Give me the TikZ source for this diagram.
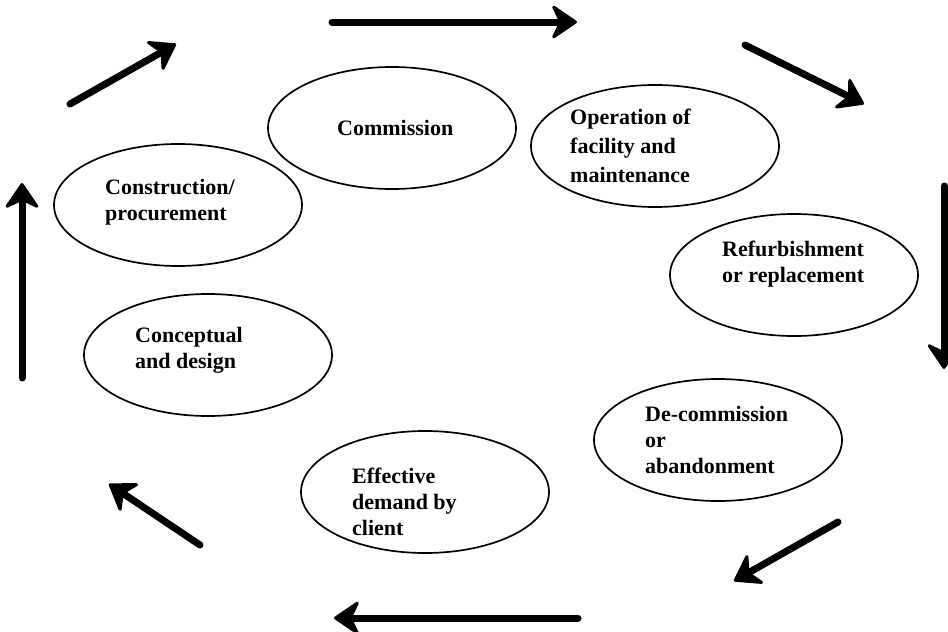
\documentclass[tikz,border=0pt]{standalone}
\usepackage{fontspec}
\setmainfont{Liberation Serif}
\usetikzlibrary{arrows.meta,shapes.geometric}
\begin{document}
\begin{tikzpicture}[x=1pt,y=-1pt,
  stage/.style={draw, line width=1.7pt, ellipse, minimum width=248pt, minimum height=122pt, inner sep=0pt},
  stagetext/.style={anchor=west, align=left, inner sep=0pt,
    font=\fontsize{22}{26}\selectfont\bfseries},
  flow/.style={line width=7pt, line cap=round,
    -{Stealth[length=28pt,width=38pt,inset=9pt,line width=3pt,round]}}]
\clip (0,0) rectangle (948,632);

% stages of the facility life cycle
\node[stage] (commission)   at (392,128) {};
\node[stage] (operation)    at (655,146) {};
\node[stage] (construction) at (178,205) {};
\node[stage] (refurbish)    at (794,275) {};
\node[stage] (conceptual)   at (208,355) {};
\node[stage] (decommission) at (718,440) {};
\node[stage] (demand)       at (425,492) {};

\node[stagetext] (tcommission)   at (337,128) {Commission};
\node[stagetext, font=\fontsize{22}{29}\selectfont\bfseries]
                 (toperation)    at (570,146) {Operation of\\facility and\\maintenance};
\node[stagetext] (tconstruction) at (105,202) {Construction/\\procurement};
\node[stagetext] (trefurbish)    at (722,264) {Refurbishment\\or replacement};
\node[stagetext] (tconceptual)   at (135,350) {Conceptual\\and design};
\node[stagetext] (tdecommission) at (645,440) {De-commission\\or\\abandonment};
\node[stagetext] (tdemand)       at (352,502) {Effective\\demand by\\client};

% clockwise flow arrows around the cycle
\coordinate (a1s) at (332,22);  \coordinate (a1e) at (577,22);
\coordinate (a2s) at (745,45);  \coordinate (a2e) at (864,104);
\coordinate (a3s) at (944,186); \coordinate (a3e) at (944,369);
\coordinate (a4s) at (838,522); \coordinate (a4e) at (734,581);
\coordinate (a5s) at (578,618); \coordinate (a5e) at (334,618);
\coordinate (a6s) at (200,545); \coordinate (a6e) at (109,484);
\coordinate (a7s) at (22,378);  \coordinate (a7e) at (22,183);
\coordinate (a8s) at (70,104);  \coordinate (a8e) at (176,44);

\foreach \i in {1,...,8}
  \draw[flow] (a\i s) -- (a\i e);
\end{tikzpicture}
\end{document}
